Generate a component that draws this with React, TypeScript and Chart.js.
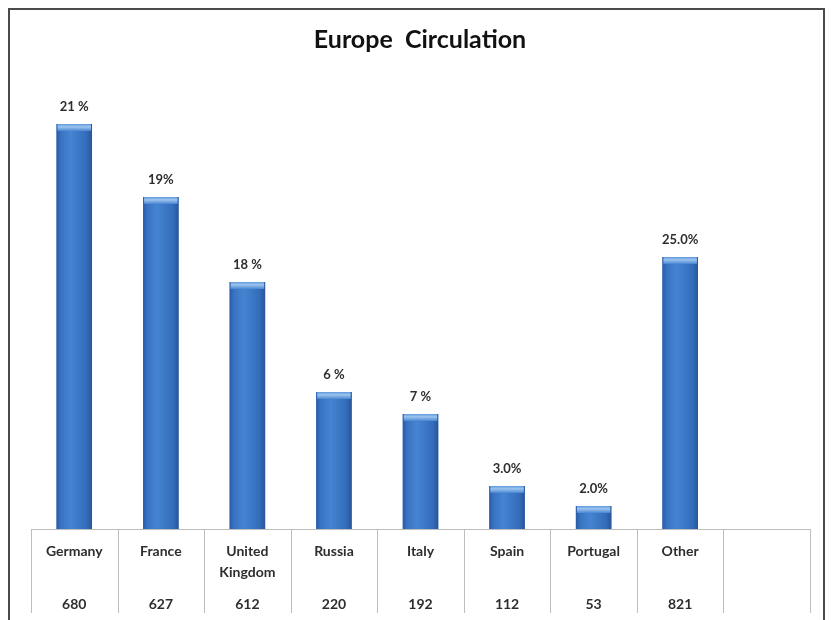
import React, { useEffect, useRef } from "react";
import { Chart, registerables } from "chart.js";

Chart.register(...registerables);

const categories: string[][] = [["Germany"], ["France"], ["United", "Kingdom"], ["Russia"], ["Italy"], ["Spain"], ["Portugal"], ["Other"], [""]];
const circulation: (string)[] = ["680", "627", "612", "220", "192", "112", "53", "821", ""];
const shareLabels: string[] = ["21 %", "19%", "18 %", "6 %", "7 %", "3.0%", "2.0%", "25.0%", ""];
// bar heights (arbitrary units, axis hidden)
const barHeights: (number | null)[] = [405, 332, 247, 137, 115, 43, 23, 272, null];
const axisMax = 430;

const FONT = "Lato, 'Open Sans', sans-serif";

const tablePlugin = {
  id: "tablePlugin",
  afterDatasetsDraw(chart: any) {
    const ctx = chart.ctx;
    const meta = chart.getDatasetMeta(0);
    ctx.save();
    meta.data.forEach((el: any, i: number) => {
      if (barHeights[i] == null) return;
      const w = el.width;
      const left = el.x - w / 2;
      const top = el.y;
      const h = el.base - el.y;
      const g = ctx.createLinearGradient(left, 0, left + w, 0);
      g.addColorStop(0, "#2a5aa6");
      g.addColorStop(0.12, "#3873c2");
      g.addColorStop(0.4, "#4584d2");
      g.addColorStop(0.85, "#336cba");
      g.addColorStop(1, "#285598");
      ctx.fillStyle = g;
      ctx.fillRect(left, top, w, h);
      // top bevel
      const cg = ctx.createLinearGradient(0, top, 0, top + 7);
      cg.addColorStop(0, "#5e98dc");
      cg.addColorStop(0.4, "#9cc4ee");
      cg.addColorStop(1, "#4a86d2");
      ctx.fillStyle = cg;
      ctx.fillRect(left + 1, top, w - 2, 7);
      // label
      ctx.fillStyle = "#2e2e2e";
      ctx.font = "bold 13px " + FONT;
      ctx.textAlign = "center";
      ctx.textBaseline = "middle";
      ctx.fillText(shareLabels[i], el.x, top - 17);
    });
    ctx.restore();
  },
  afterDraw(chart: any) {
    const ctx = chart.ctx;
    const area = chart.chartArea;
    const xs = chart.scales.x;
    const n = categories.length;
    const step = (area.right - area.left) / n;
    ctx.save();
    // title
    ctx.fillStyle = "#111111";
    ctx.font = "bold 25px " + FONT;
    ctx.textAlign = "center";
    ctx.textBaseline = "middle";
    ctx.fillText("Europe  Circulation", 410, 30);
    // table lines
    ctx.strokeStyle = "#bdbdbd";
    ctx.lineWidth = 1;
    ctx.beginPath();
    ctx.moveTo(area.left, area.bottom + 0.5);
    ctx.lineTo(area.right, area.bottom + 0.5);
    for (let i = 0; i <= n; i++) {
      const x = Math.round(area.left + i * step) + 0.5;
      ctx.moveTo(x, area.bottom);
      ctx.lineTo(x, area.bottom + 84);
    }
    ctx.stroke();
    ctx.fillStyle = "#2e2e2e";
    ctx.font = "bold 14px " + FONT;
    categories.forEach((lines, i) => {
      const cx = xs.getPixelForValue(i);
      lines.forEach((t, j) => ctx.fillText(t, cx, area.bottom + 22 + j * 21));
      ctx.fillText(circulation[i], cx, area.bottom + 75);
    });
    ctx.restore();
  },
};

export default function App() {
  const ref = useRef<HTMLCanvasElement | null>(null);
  useEffect(() => {
    if (!ref.current) return;
    const chart = new Chart(ref.current, {
      type: "bar",
      data: {
        labels: categories.map((c) => c.join(" ")),
        datasets: [
          {
            data: barHeights,
            backgroundColor: "#3b78c8",
            borderWidth: 0,
            categoryPercentage: 1,
            barPercentage: 0.41,
          },
        ],
      },
      options: {
        responsive: false,
        animation: false,
        layout: { padding: { left: 21, right: 13, top: 89, bottom: 91 } },
        plugins: { legend: { display: false }, tooltip: { enabled: false }, title: { display: false } },
        scales: {
          x: { display: false },
          y: { display: false, min: 0, max: axisMax },
        },
      },
      plugins: [tablePlugin],
    });
    return () => chart.destroy();
  }, []);
  return (
    <div
      style={{
        position: "relative",
        width: 813,
        height: 640,
        border: "2px solid #4a4a4a",
        boxShadow: "1px 1px 2px #999",
        background: "#fff",
      }}
    >
      <canvas ref={ref} width={813} height={610} style={{ display: "block" }} />
    </div>
  );
}
